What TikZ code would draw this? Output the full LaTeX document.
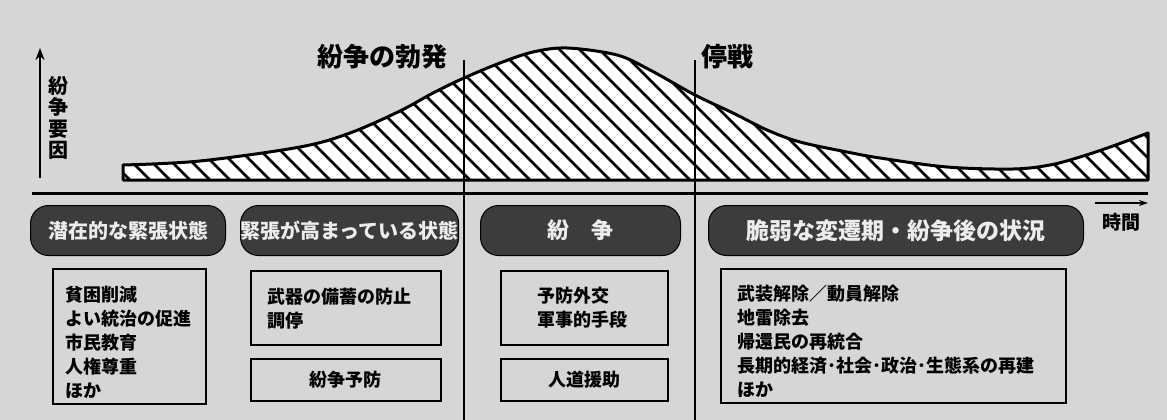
\documentclass[tikz,border=0pt]{standalone}
\usepackage{fontspec}
\setmainfont{Noto Sans CJK JP}
\usetikzlibrary{arrows.meta}
\definecolor{bgc}{RGB}{214,214,214}
\definecolor{pillc}{RGB}{60,60,60}
\definecolor{pilltext}{RGB}{236,236,236}
\tikzset{
  pill/.style={draw=black, line width=1pt, fill=pillc, rounded corners=18pt,
    text=pilltext, font=\fontsize{20}{22}\selectfont\bfseries,
    minimum height=50pt, inner sep=0pt, anchor=north west},
  boxframe/.style={draw=black, line width=1.8pt, anchor=north west, inner sep=0pt,
    font=\fontsize{18}{24}\selectfont\bfseries},
  itemtext/.style={anchor=north west, align=left, inner sep=0pt,
    font=\fontsize{18}{24}\selectfont\bfseries},
  headtext/.style={inner sep=0pt, font=\fontsize{26}{28}\selectfont\bfseries},
  hatchline/.style={line width=2.6pt},
  outline/.style={line width=3pt, line join=round},
  divider/.style={line width=1.8pt},
}
\begin{document}
\begin{tikzpicture}[x=1pt,y=-1pt]
\fill[bgc] (0,0) rectangle (1167,420);
\useasboundingbox (0,0) rectangle (1167,420);

\def\hatchshape{(123,180) -- (123,165) -- plot[smooth, tension=0.55] coordinates {(123,165) (200,161) (300,147) (350,133) (400,111) (433,93) (464,78) (500,63) (533,52) (567,48) (617,55) (650,70) (695,95) (733,113) (767,130) (800,142) (847,152) (880,158) (947,167) (1013,169) (1050,165) (1080,157) (1113,146) (1148,133)} -- (1148,180) -- cycle}

% hatched area
\begin{scope}
  \clip \hatchshape;
  \fill[white] (100,30) rectangle (1160,190);
  \foreach \x in {-60,-40,...,1160} \draw[hatchline] (\x,30) -- ++(160,160);
\end{scope}
\draw[outline] \hatchshape;

% axes
\coordinate (yA) at (40,178);
\coordinate (yB) at (40,48);
\draw[line width=2.4pt, -{Stealth[length=12pt,width=9pt]}] (yA) -- (yB);
\node[inner sep=0pt, align=center, font=\fontsize{20}{21.5}\selectfont\bfseries] (ylab) at (58,118) {紛\\争\\要\\因};

\coordinate (xA) at (32,193);
\coordinate (xB) at (1148,193);
\draw[line width=3pt] (xA) -- (xB);

\coordinate (tA) at (1095,203);
\coordinate (tB) at (1148,203);
\draw[line width=1.5pt, -{Stealth[length=9pt,width=6pt]}] (tA) -- (tB);
\node[inner sep=0pt, font=\fontsize{19}{21}\selectfont\bfseries] (tlab) at (1121,222) {時間};

% dividers
\coordinate (d1t) at (464,60);
\coordinate (d1b) at (464,420);
\coordinate (d2t) at (695,60);
\coordinate (d2b) at (695,420);
\draw[divider] (d1t) -- (d1b);
\draw[divider] (d2t) -- (d2b);

% headings
\node[headtext] (h1) at (382,57) {紛争の勃発};
\node[headtext, anchor=west] (h2) at (701,57) {停戦};

% pills
\node[pill, minimum width=195pt] (p1) at (30,205) {潜在的な緊張状態};
\node[pill, minimum width=215pt] (p2) at (240,205) {緊張が高まっている状態};
\node[pill, minimum width=200pt, font=\fontsize{22}{24}\selectfont\bfseries] (p3) at (480,205) {紛　争};
\node[pill, minimum width=375pt, font=\fontsize{23}{25}\selectfont\bfseries] (p4) at (708,205) {脆弱な変遷期・紛争後の状況};

% boxes
\node[boxframe, minimum width=153pt, minimum height=135pt] (b1) at (52,268) {};
\node[itemtext] (t1) at (65,286) {貧困削減\\よい統治の促進\\市民教育\\人権尊重\\ほか};

\node[boxframe, minimum width=190pt, minimum height=74pt] (b2a) at (250,270) {};
\node[itemtext] (t2) at (267,288) {武器の備蓄の防止\\調停};
\node[boxframe, minimum width=190pt, minimum height=42pt] (b2b) at (250,358) {紛争予防};

\node[boxframe, minimum width=167pt, minimum height=74pt] (b3a) at (500,270) {};
\node[itemtext] (t3) at (537,287) {予防外交\\軍事的手段};
\node[boxframe, minimum width=167pt, minimum height=42pt] (b3b) at (500,358) {人道援助};

\node[boxframe, minimum width=345pt, minimum height=134pt] (b4) at (720,268) {};
\node[itemtext] (t4) at (737,285) {武装解除／動員解除\\地雷除去\\帰還民の再統合\\長期的経済･社会･政治･生態系の再建\\ほか};
\end{tikzpicture}
\end{document}
